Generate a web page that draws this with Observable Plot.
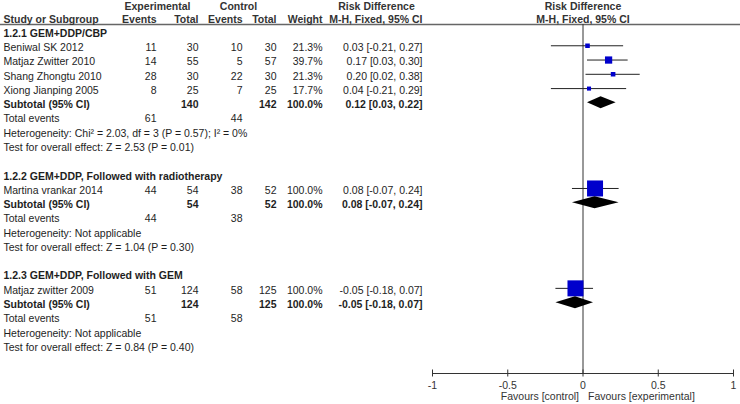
<!DOCTYPE html>
<html><head><meta charset="utf-8">
<script src="https://cdn.jsdelivr.net/npm/d3@7"></script>
<script src="https://cdn.jsdelivr.net/npm/@observablehq/plot@0.6"></script>
<style>html,body{margin:0;padding:0;background:#fff}</style>
</head><body><div id="chart"></div>
<script>
// ---- data ----
const groupNames = ["1.2.1 GEM+DDP/CBP", "1.2.2 GEM+DDP, Followed with radiotherapy", "1.2.3 GEM+DDP, Followed with GEM"];
const studies = ["Beniwal SK 2012", "Matjaz Zwitter 2010", "Shang Zhongtu 2010", "Xiong Jianping 2005", "Martina vrankar 2014", "Matjaz zwitter 2009"];
const studyGroup = [0, 0, 0, 0, 1, 2];
const expEvents = [11, 14, 28, 8, 44, 51];
const expTotal = [30, 55, 30, 25, 54, 124];
const ctrlEvents = [10, 5, 22, 7, 38, 58];
const ctrlTotal = [30, 57, 30, 25, 52, 125];
const weight = [21.3, 39.7, 21.3, 17.7, 100.0, 100.0];
const rd = [0.03, 0.17, 0.20, 0.04, 0.08, -0.05];
const rdLo = [-0.21, 0.03, 0.02, -0.21, -0.07, -0.18];
const rdHi = [0.27, 0.30, 0.38, 0.29, 0.24, 0.07];

const subExpTotal = [140, 54, 124];
const subCtrlTotal = [142, 52, 125];
const subWeight = [100.0, 100.0, 100.0];
const subRd = [0.12, 0.08, -0.05];
const subLo = [0.03, -0.07, -0.18];
const subHi = [0.22, 0.24, 0.07];
const totExpEvents = [61, 44, 51];
const totCtrlEvents = [44, 38, 58];
const heterogeneity = ["Heterogeneity: Chi\u00b2 = 2.03, df = 3 (P = 0.57); I\u00b2 = 0%", "Heterogeneity: Not applicable", "Heterogeneity: Not applicable"];
const overallTest = ["Test for overall effect: Z = 2.53 (P = 0.01)", "Test for overall effect: Z = 1.04 (P = 0.30)", "Test for overall effect: Z = 0.84 (P = 0.40)"];

const xTicks = [-1, -0.5, 0, 0.5, 1];
const favourLeft = "Favours [control]";
const favourRight = "Favours [experimental]";

// ---- build table rows ----
const rows = [];
let r = 0;
groupNames.forEach((g, gi) => {
  rows.push({row: r++, kind: "group", study: g});
  studies.forEach((s, i) => {
    if (studyGroup[i] !== gi) return;
    rows.push({row: r++, kind: "study", study: s, ee: expEvents[i], et: expTotal[i], ce: ctrlEvents[i], ct: ctrlTotal[i],
      w: weight[i], rd: rd[i], lo: rdLo[i], hi: rdHi[i]});
  });
  rows.push({row: r++, kind: "subtotal", study: "Subtotal (95% CI)", et: subExpTotal[gi], ct: subCtrlTotal[gi],
    w: subWeight[gi], rd: subRd[gi], lo: subLo[gi], hi: subHi[gi], g: gi});
  rows.push({row: r++, kind: "total", study: "Total events", ee: totExpEvents[gi], ce: totCtrlEvents[gi]});
  rows.push({row: r++, kind: "note", study: heterogeneity[gi]});
  rows.push({row: r++, kind: "note", study: overallTest[gi]});
  r++;
});

// ---- layout ----
const W = 740, H = 404;
const ML = 432, MR = 7, MT = 24, MB = 31;
const Y0 = 33, ROWH = 14.27;
const AXIS_ROW = (H - MB - Y0) / ROWH;
const px = p => p / ROWH; // pixels -> row units
const HEAD1 = -1.85, HEAD2 = -1;
const f2 = v => v.toFixed(2);
const fmt = {
  ee: d => String(d.ee), et: d => String(d.et), ce: d => String(d.ce), ct: d => String(d.ct),
  w: d => d.w.toFixed(1) + "%",
  ci: d => `${f2(d.rd)} [${f2(d.lo)}, ${f2(d.hi)}]`
};
const cols = [
  {key: "ee", src: "ee", x: 156, head: "Events"},
  {key: "et", src: "et", x: 198, head: "Total"},
  {key: "ce", src: "ce", x: 242, head: "Events"},
  {key: "ct", src: "ct", x: 276, head: "Total"},
  {key: "w", src: "w", x: 322, head: "Weight"},
  {key: "ci", src: "rd", x: 422, head: "M-H, Fixed, 95% CI"}
];
const isBold = d => d.kind === "group" || d.kind === "subtotal";
const TXT = "#1e1e1e", HEAD = "#333";

const marks = [];
// header rule and zero line, axis line
marks.push(Plot.frame({anchor: "top", insetLeft: -ML, insetRight: -MR, stroke: "#666", strokeWidth: 1.5}));
marks.push(Plot.ruleX([0], {stroke: "#333", strokeWidth: 1}));
marks.push(Plot.frame({anchor: "bottom", stroke: "#333", strokeWidth: 1}));
marks.push(Plot.ruleX(xTicks, {x: d => d, y1: AXIS_ROW - px(3.5), y2: AXIS_ROW + px(3.5), stroke: "#333"}));
marks.push(Plot.axisX({ticks: xTicks, tickSize: 0, tickPadding: 8, tickFormat: d => String(d), fill: HEAD, fontSize: 10.5}));
marks.push(Plot.text([favourLeft], {x: () => 0, text: d => d, frameAnchor: "bottom", dy: 26, dx: -4, textAnchor: "end", fill: HEAD}));
marks.push(Plot.text([favourRight], {x: () => 0, text: d => d, frameAnchor: "bottom", dy: 26, dx: 5, textAnchor: "start", fill: HEAD}));

// study column
marks.push(Plot.text(rows.filter(d => !isBold(d)), {y: "row", text: "study", frameAnchor: "left", dx: 3 - ML, textAnchor: "start", fill: TXT}));
marks.push(Plot.text(rows.filter(isBold), {y: "row", text: "study", frameAnchor: "left", dx: 3 - ML, textAnchor: "start", fontWeight: "bold", fill: TXT}));
// numeric columns
for (const c of cols) {
  const has = d => d[c.src] != null;
  marks.push(Plot.text(rows.filter(d => has(d) && !isBold(d)), {y: "row", text: fmt[c.key], frameAnchor: "left", dx: c.x - ML, textAnchor: "end", fill: TXT}));
  marks.push(Plot.text(rows.filter(d => has(d) && isBold(d)), {y: "row", text: fmt[c.key], frameAnchor: "left", dx: c.x - ML, textAnchor: "end", fontWeight: "bold", fill: TXT}));
}
// headers (left table)
const headTop = [{t: "Experimental", x: 157}, {t: "Control", x: 238}, {t: "Risk Difference", x: 376}];
for (const h of headTop) marks.push(Plot.text([h.t], {y: () => HEAD1, text: d => d, frameAnchor: "left", dx: h.x - ML, textAnchor: "middle", fontWeight: "bold", fill: HEAD}));
marks.push(Plot.text(["Study or Subgroup"], {y: () => HEAD2, text: d => d, frameAnchor: "left", dx: 3 - ML, textAnchor: "start", fontWeight: "bold", fill: HEAD}));
for (const c of cols) marks.push(Plot.text([c.head], {y: () => HEAD2, text: d => d, frameAnchor: "left", dx: c.x - ML, textAnchor: "end", fontWeight: "bold", fill: HEAD}));
// headers (plot)
marks.push(Plot.text(["Risk Difference"], {x: () => 0, y: () => HEAD1, text: d => d, fontWeight: "bold", fill: HEAD}));
marks.push(Plot.text(["M-H, Fixed, 95% CI"], {x: () => 0, y: () => HEAD2, text: d => d, fontWeight: "bold", fill: HEAD}));

// forest marks
const studyRows = rows.filter(d => d.kind === "study");
const subRows = rows.filter(d => d.kind === "subtotal");
marks.push(Plot.ruleY(studyRows, {y: "row", x1: "lo", x2: "hi", stroke: "#222", strokeWidth: 1, dy: -2}));
marks.push(Plot.dot(studyRows, {x: "rd", y: "row", r: "w", symbol: "square", fill: "#0000cc", stroke: "none", dy: -2}));
const HALF = px(6);
const diamond = subRows.flatMap(d => [
  {g: d.g, x: d.lo, y1: d.row, y2: d.row},
  {g: d.g, x: d.rd, y1: d.row - HALF, y2: d.row + HALF},
  {g: d.g, x: d.hi, y1: d.row, y2: d.row}
]);
marks.push(Plot.areaY(diamond, {x: "x", y1: "y1", y2: "y2", z: "g", fill: "black", dy: -2}));

const chart = Plot.plot({
  width: W, height: H,
  marginLeft: ML, marginRight: MR, marginTop: MT, marginBottom: MB,
  x: {domain: [-1, 1], axis: null},
  y: {type: "linear", domain: [0, 22], range: [Y0, Y0 + 22 * ROWH], axis: null},
  r: {type: "linear", domain: [0, 100], range: [1.5 / Math.sqrt(Math.PI), 16 / Math.sqrt(Math.PI)], clamp: true},
  style: {fontFamily: "'Liberation Sans', Arial, sans-serif", fontSize: "10.5px", background: "#fff", color: TXT},
  marks
});
document.getElementById("chart").appendChild(chart);
</script>
</body></html>
